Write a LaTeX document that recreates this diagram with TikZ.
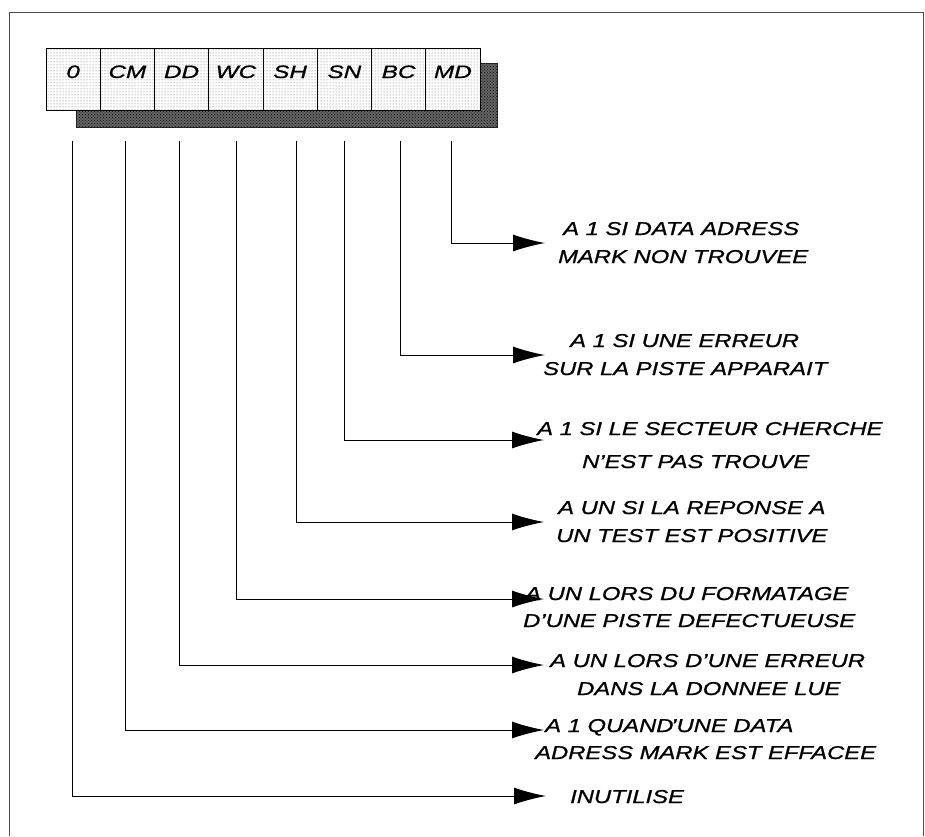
\documentclass[tikz,border=0pt]{standalone}
\usepackage{fontspec}
\newfontfamily\lblfont[FakeStretch=1.28,FakeBold=0.9]{Liberation Sans}
\newfontfamily\cellfont[FakeStretch=1.35,FakeBold=0.9]{Liberation Sans}
\usetikzlibrary{arrows.meta,patterns}
\tikzset{
  frameline/.style={draw=black!70, line width=0.9pt},
  shadowbox/.style={draw=black!85, fill=black!62, line width=0.8pt},
  cell/.style={draw=black, line width=0.9pt, fill=white, minimum width=54.25pt, minimum height=62pt, inner sep=0pt,
     text height=13pt, text depth=15pt, font=\cellfont\itshape\fontsize{18}{20}\selectfont,
     postaction={pattern=dots, pattern color=black!60}},
  txt/.style={anchor=base west, inner sep=0pt, font=\lblfont\itshape\fontsize{18.6}{28}\selectfont},
  conn/.style={draw=black, line width=1pt, -{Latex[length=32pt,width=17pt]}},
}
\begin{document}
\begin{tikzpicture}[x=1pt,y=-1pt]
\useasboundingbox (0,0) rectangle (925,836);
% frame
\draw[frameline] (9,836) -- (9,12) -- (923,12) -- (923,836);
% shadow
\path[shadowbox] (76,63) rectangle (497,127);
\path[pattern=crosshatch dots, pattern color=black!90] (76,63) rectangle (497,127);
% cells
\node[cell] (c0) at (73.1,79) {0};
\node[cell] (cCM) at (127.4,79) {CM};
\node[cell] (cDD) at (181.6,79) {DD};
\node[cell] (cWC) at (235.9,79) {WC};
\node[cell] (cSH) at (290.1,79) {SH};
\node[cell] (cSN) at (344.4,79) {SN};
\node[cell] (cBC) at (398.6,79) {BC};
\node[cell] (cMD) at (452.9,79) {MD};
% start points
\coordinate (s0) at (72,141);
\coordinate (sCM) at (125,141);
\coordinate (sDD) at (179,141);
\coordinate (sWC) at (236,141);
\coordinate (sSH) at (296,141);
\coordinate (sSN) at (344,141);
\coordinate (sBC) at (400,141);
\coordinate (sMD) at (451,141);
% arrow tips
\coordinate (eMD) at (545,243);
\coordinate (eBC) at (545,355);
\coordinate (eSN) at (544,440);
\coordinate (eSH) at (544,522);
\coordinate (eWC) at (544,599);
\coordinate (eDD) at (544,665);
\coordinate (eCM) at (544,730);
\coordinate (e0) at (546,796);
% texts
\node[txt] (tMDa) at (563,235) {A 1 SI DATA ADRESS};
\node[txt] (tMDb) at (558,263) {MARK NON TROUVEE};
\node[txt] (tBCa) at (570,347) {A 1 SI UNE ERREUR};
\node[txt] (tBCb) at (543,375) {SUR LA PISTE APPARAIT};
\node[txt] (tSNa) at (537,435) {A 1 SI LE SECTEUR CHERCHE};
\node[txt] (tSNb) at (582,468) {N’EST PAS TROUVE};
\node[txt] (tSHa) at (558,514) {A UN SI LA REPONSE A};
\node[txt] (tSHb) at (556,542) {UN TEST EST POSITIVE};
\node[txt] (tWCa) at (525,600) {A UN LORS DU FORMATAGE};
\node[txt] (tWCb) at (523,627) {D’UNE PISTE DEFECTUEUSE};
\node[txt] (tDDa) at (550,667) {A UN LORS D’UNE ERREUR};
\node[txt] (tDDb) at (577,695) {DANS LA DONNEE LUE};
\node[txt] (tCMa) at (545,732) {A 1 QUAND\kern-0.12em’UNE DATA};
\node[txt] (tCMb) at (535,759) {ADRESS MARK EST EFFACEE};
\node[txt] (t0) at (570,803) {INUTILISE};
% connectors
\draw[conn] (sMD) |- (eMD);
\draw[conn] (sBC) |- (eBC);
\draw[conn] (sSN) |- (eSN);
\draw[conn] (sSH) |- (eSH);
\draw[conn] (sWC) |- (eWC);
\draw[conn] (sDD) |- (eDD);
\draw[conn] (sCM) |- (eCM);
\draw[conn] (s0) |- (e0);
\end{tikzpicture}
\end{document}
